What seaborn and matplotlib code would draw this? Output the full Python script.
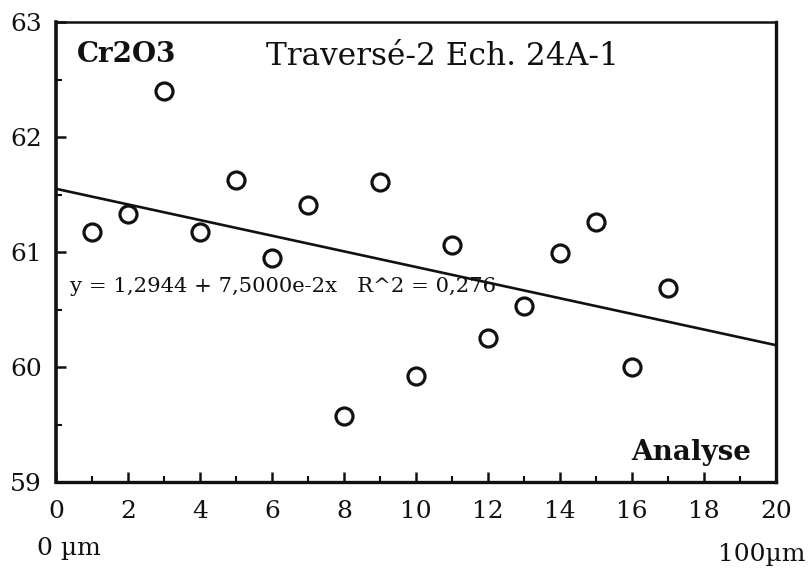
import matplotlib
matplotlib.use("Agg")
import matplotlib.pyplot as plt
import seaborn as sns
import pandas as pd
from matplotlib.ticker import MultipleLocator

sns.set_theme(style="white")
plt.rcParams['font.family'] = ['DejaVu Serif', 'DejaVu Sans']

analyse = [1, 2, 3, 4, 5, 6, 7, 8, 9, 10, 11, 12, 13, 14, 15, 16, 17]
cr2o3 = [61.17, 61.33, 62.40, 61.17, 61.63, 60.95, 61.41, 59.57, 61.61,
         59.92, 61.06, 60.25, 60.53, 60.99, 61.26, 60.00, 60.69]
x_ticks = [0, 2, 4, 6, 8, 10, 12, 14, 16, 18, 20]
y_ticks = [59, 60, 61, 62, 63]

df = pd.DataFrame({"Analyse": analyse, "Cr2O3": cr2o3})

fig = plt.figure(figsize=(8.11, 5.70), dpi=100)
ax = fig.add_axes([56/811, 1 - 482/570, (776 - 56)/811, (482 - 22)/570])
ax.set_xlim(0, 20)
ax.set_ylim(59, 63)

sns.regplot(data=df, x="Analyse", y="Cr2O3", ax=ax, scatter=False, ci=None,
            truncate=False, line_kws=dict(color="#111111", lw=1.9))
sns.scatterplot(data=df, x="Analyse", y="Cr2O3", ax=ax, s=150, marker="o",
                facecolor="white", edgecolor="#111111", linewidth=2.3, zorder=3)

ax.set_xlim(0, 20)
ax.set_ylim(59, 63)
ax.set_xticks(x_ticks)
ax.set_yticks(y_ticks)
ax.xaxis.set_minor_locator(MultipleLocator(1))
ax.yaxis.set_minor_locator(MultipleLocator(0.5))
ax.tick_params(which="major", direction="in", length=7, width=1.8, colors="#111111",
               labelsize=18, bottom=True, left=True)
ax.tick_params(which="minor", direction="in", length=4, width=1.5, colors="#111111",
               bottom=True, left=True)
ax.tick_params(axis="x", which="major", pad=13)
ax.tick_params(axis="y", which="major", pad=10)
ax.set_xlabel("")
ax.set_ylabel("")

for side, w in [("left", 2.6), ("bottom", 2.4), ("top", 1.8), ("right", 2.4)]:
    ax.spines[side].set_visible(True)
    ax.spines[side].set_color("#111111")
    ax.spines[side].set_linewidth(w)

ax.text(0.029, 0.93, "Cr2O3", transform=ax.transAxes, fontsize=20,
        fontweight="bold", color="#111111", va="center", ha="left")
ax.text(0.5375, 0.925, "Traversé-2 Ech. 24A-1", transform=ax.transAxes, fontsize=22.5,
        color="#111111", va="center", ha="center")
ax.text(0.019, 0.425, "y = 1,2944 + 7,5000e-2x   R^2 = 0,276", transform=ax.transAxes,
        fontsize=15.2, color="#111111", va="center", ha="left")
ax.text(0.965, 0.065, "Analyse", transform=ax.transAxes, fontsize=20,
        fontweight="bold", color="#111111", va="center", ha="right")

fig.text(37/811, 1 - 548/570, "0 µm", fontsize=18, color="#111111",
         va="center", ha="left")
fig.text(805/811, 1 - 555/570, "100µm", fontsize=18, color="#111111",
         va="center", ha="right")

fig.savefig("out.png", dpi=100, facecolor="white")
